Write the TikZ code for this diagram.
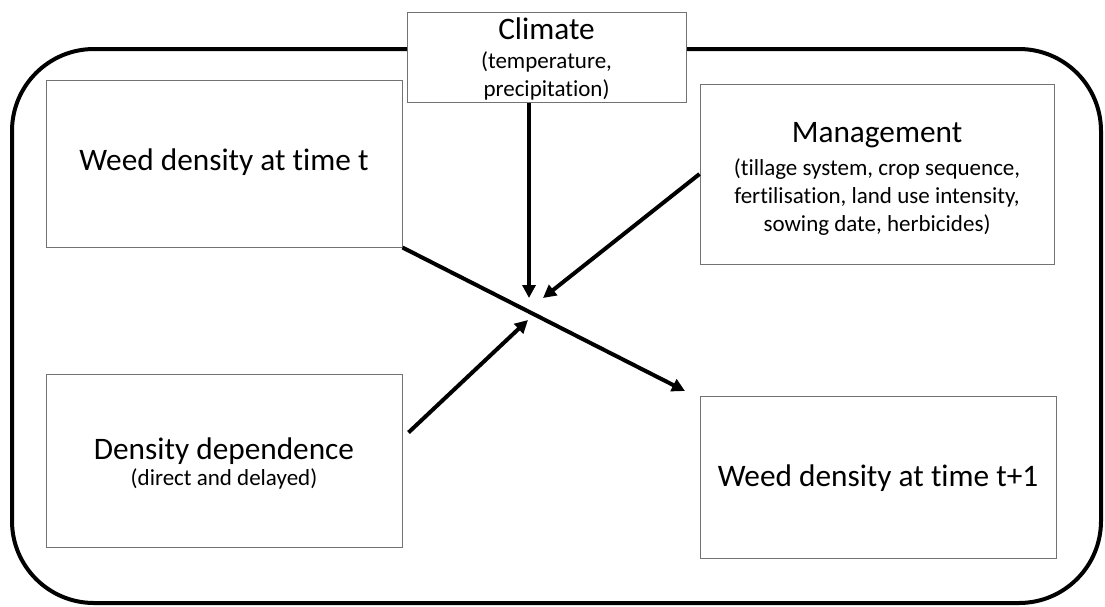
\documentclass[tikz,border=0pt]{standalone}
\usepackage{fontspec}
\setmainfont{Carlito}[Ligatures={NoCommon}]
\usetikzlibrary{arrows.meta,calc}
\newcommand{\hdfont}{\fontsize{31.3}{36}\selectfont}
\begin{document}
\begin{tikzpicture}[x=1pt,y=-1pt,
  box/.style={draw=black!55,line width=1pt,fill=white,inner sep=0pt},
  txt/.style={inner sep=0pt,align=center,font=\fontsize{23}{28}\selectfont},
  link/.style={line width=4pt,-{Triangle[length=13pt,width=13pt]}},
  frame/.style={line width=4pt,rounded corners=82pt}]
\useasboundingbox (0,0) rectangle (1105,606);
\draw[frame] (12,49) rectangle (1101,603);

\node[box,minimum width=356pt,minimum height=167pt] (wt) at (224,163.5) {};
\node[box,minimum width=356pt,minimum height=173pt] (dens) at (224,460.5) {};
\node[box,minimum width=356pt,minimum height=162pt] (wt1) at (878,477) {};
\node[box,minimum width=354pt,minimum height=180pt] (mgmt) at (877,174) {};
\node[box,minimum width=279pt,minimum height=90pt] (clim) at (546.5,57) {};

\node[txt] (wtT) at ($(wt.center)+(0,-1)$) {\hdfont Weed density at time t};
\node[txt] (densT) at ($(dens.center)+(0,3)$) {{\hdfont Density dependence}\\[-2pt](direct and delayed)};
\node[txt] (wt1T) at ($(wt1.center)+(0,1)$) {\hdfont Weed density at time t+1};
\node[txt] (mgmtT) at ($(mgmt.center)+(0,5)$) {{\hdfont Management}\\[5pt](tillage system, crop sequence,\\fertilisation, land use intensity,\\sowing date, herbicides)};
\node[txt] (climT) at ($(clim.center)+(0,2)$) {{\hdfont Climate}\\[1pt](temperature,\\precipitation)};

\coordinate (hubC) at (529,298);
\coordinate (hubM) at (543,298);
\coordinate (hubD) at (528,320);
\coordinate (endW) at (685,391);

\draw[link] (clim.south -| hubC) -- (hubC);
\draw[link] (mgmt.west) -- (hubM);
\draw[link] ($(dens.east)+(6,-28)$) -- (hubD);
\draw[link] (wt.south east) -- (endW);
\end{tikzpicture}
\end{document}
